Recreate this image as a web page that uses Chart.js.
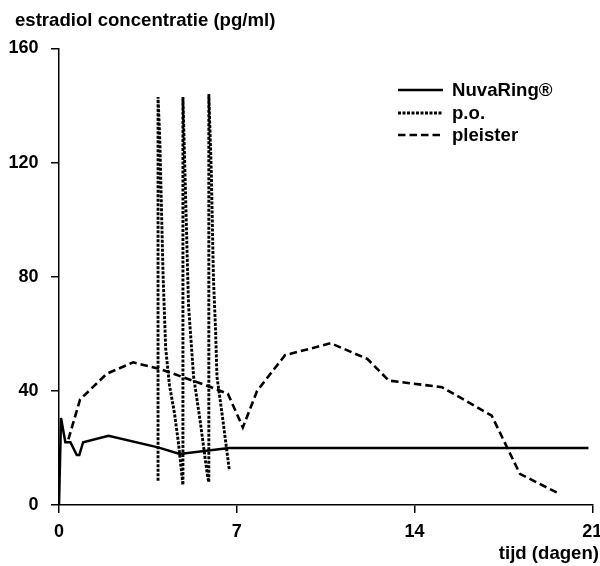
<!DOCTYPE html>
<html>
<head>
<meta charset="utf-8">
<script src="https://cdn.jsdelivr.net/npm/chart.js@4.4.1/dist/chart.umd.min.js"></script>
<style>
html,body{margin:0;padding:0;background:#fff;}
#wrap{width:600px;height:566px;position:relative;}
</style>
</head>
<body>
<div id="wrap"><canvas id="c"></canvas></div>
<script>
// ---- data ----
const yTitle = "estradiol concentratie (pg/ml)";
const xTitle = "tijd (dagen)";
const seriesNames = ["NuvaRing®", "p.o.", "pleister"];
const xTicks = [0, 7, 14, 21];
const yTicks = [0, 40, 80, 120, 160];

const nuvaDays   = [0, 0.08, 0.25, 0.45, 0.7, 0.8, 0.95, 1.95, 3.9, 4.75, 6.7, 20.85];
const nuvaValues = [0, 30.5, 22, 22, 17.5, 17.5, 22, 24.3, 20.2, 17.9, 20, 20];

const poDays   = [3.9, 3.9, 3.97, 4.1, 4.2, 4.35, 4.55, 4.7, 4.88, 4.88, 4.95, 5.1, 5.3, 5.55, 5.73, 5.85, 5.9, 5.9, 6.0, 6.08, 6.17, 6.22, 6.45, 6.71];
const poValues = [8.5, 143, 128, 80, 55, 42, 32, 22, 7, 143, 120, 70, 45, 30, 18, 10, 8, 144, 116, 80, 60, 45, 30, 12];

const plDays   = [0.37, 0.83, 1.88, 2.92, 3.97, 4.88, 5.8, 6.65, 7.24, 7.8, 8.9, 10.7, 12.14, 12.99, 15.08, 17.04, 18.15, 19.6];
const plValues = [23, 37, 46, 50, 47.7, 44.8, 41.9, 39, 27.2, 40, 52.5, 56.7, 51.2, 43.6, 41.3, 31.3, 10.9, 4.4];

const pts = (xs, ys) => xs.map((x, i) => ({x: x, y: ys[i]}));
const FONT = "'Liberation Sans', Arial, sans-serif";
const TXT = 18.6;
const TICK = 18;

const extras = {
  id: 'extras',
  afterDraw(chart) {
    const ctx = chart.ctx;
    ctx.save();
    ctx.fillStyle = '#000';
    ctx.font = "bold " + TXT + "px " + FONT;
    ctx.textBaseline = 'alphabetic';
    ctx.textAlign = 'left';
    ctx.fillText(yTitle, 15, 26);
    ctx.textAlign = 'right';
    ctx.fillText(xTitle, 599, 559);
    // legend
    const rows = [90, 113, 135];
    chart.data.datasets.forEach((ds, i) => {
      const y = rows[i];
      ctx.beginPath();
      ctx.setLineDash(ds.borderDash || []);
      ctx.lineWidth = ds.borderWidth;
      ctx.strokeStyle = ds.borderColor;
      ctx.moveTo(398, y);
      ctx.lineTo(443, y);
      ctx.stroke();
      ctx.setLineDash([]);
      ctx.textAlign = 'left';
      ctx.textBaseline = 'middle';
      ctx.fillText(ds.label, 452, y + 1);
    });
    ctx.restore();
  }
};

new Chart(document.getElementById('c'), {
  type: 'line',
  data: {
    datasets: [
      {label: seriesNames[0], data: pts(nuvaDays, nuvaValues), borderColor: '#000', borderWidth: 2.5, borderDash: [], pointRadius: 0, tension: 0, fill: false},
      {label: seriesNames[1], data: pts(poDays, poValues), borderColor: '#000', borderWidth: 2.9, borderDash: [3, 1.5], pointRadius: 0, tension: 0, fill: false},
      {label: seriesNames[2], data: pts(plDays, plValues), borderColor: '#000', borderWidth: 2.6, borderDash: [7.5, 4], pointRadius: 0, tension: 0, fill: false}
    ]
  },
  options: {
    responsive: true,
    maintainAspectRatio: false,
    animation: false,
    layout: {autoPadding: false, padding: {left: 9, right: 7.7, top: 48.5, bottom: 24}},
    plugins: {legend: {display: false}, tooltip: {enabled: false}, title: {display: false}},
    scales: {
      x: {
        type: 'linear', min: 0, max: 21,
        afterBuildTicks(scale) { scale.ticks = xTicks.map(v => ({value: v})); },
        afterFit(scale) { scale.height = 37; scale.paddingLeft = 0; scale.paddingRight = 0; },
        grid: {drawOnChartArea: false, drawTicks: true, tickLength: 8, color: '#000', lineWidth: 1.5},
        border: {display: true, color: '#000', width: 1.5},
        ticks: {color: '#000', font: {family: FONT, size: TICK, weight: 'bold'}, padding: 8.5, maxRotation: 0}
      },
      y: {
        type: 'linear', min: 0, max: 160,
        afterBuildTicks(scale) { scale.ticks = yTicks.map(v => ({value: v})); },
        afterFit(scale) { scale.width = 50; scale.paddingTop = 0; scale.paddingBottom = 0; },
        grid: {drawOnChartArea: false, drawTicks: true, tickLength: 8, color: '#000', lineWidth: 1.5},
        border: {display: true, color: '#000', width: 1.5},
        ticks: {color: '#000', font: {family: FONT, size: TICK, weight: 'bold'}, padding: 12.5}
      }
    }
  },
  plugins: [extras]
});
</script>
</body>
</html>
